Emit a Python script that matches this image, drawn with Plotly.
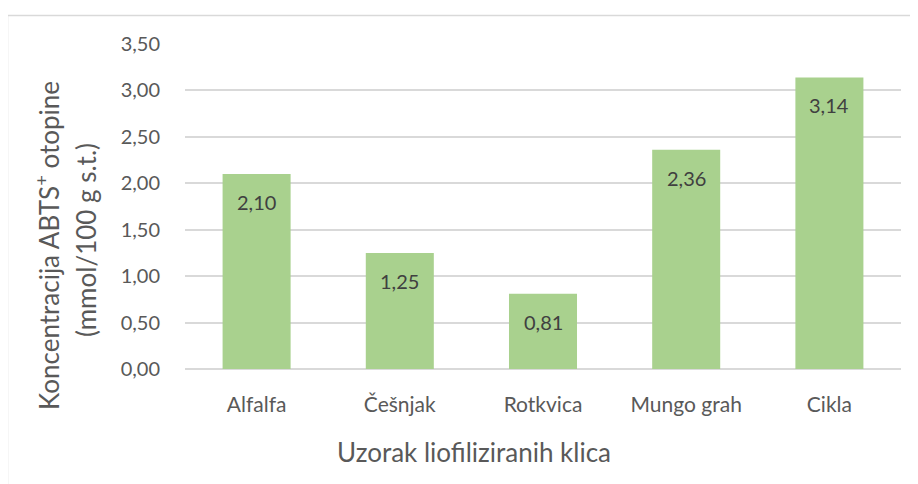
import plotly.graph_objects as go

categories = ["Alfalfa", "Češnjak", "Rotkvica", "Mungo grah", "Cikla"]
values = [2.10, 1.25, 0.81, 2.36, 3.14]
y_ticks = [0, 0.5, 1.0, 1.5, 2.0, 2.5, 3.0, 3.5]
y_ticktext = ["0,00", "0,50", "1,00", "1,50", "2,00", "2,50", "3,00", "3,50"]
y_title_1 = "Koncentracija ABTS<sup>+</sup> otopine"
y_title_2 = "(mmol/100 g s.t.)"
x_title = "Uzorak liofiliziranih klica"

OFF = 8  # page body margin
W, H = 918 - OFF, 484 - OFF
L, T = 185 - OFF, 44 - OFF
R = W - (901 - OFF)
B = H - (369 - OFF)
PW, PH = W - L - R, H - T - B

def px(x):
    return (x - OFF - L) / PW

def py(y):
    return (H - B - (y - OFF)) / PH

FONT = "Lato, 'Open Sans', sans-serif"

fig = go.Figure()
fig.add_trace(go.Bar(
    x=categories, y=values,
    marker=dict(color="#A9D18E", line=dict(width=0)),
    hoverinfo="skip",
))

annotations = []
for c, v in zip(categories, values):
    annotations.append(dict(
        x=c, y=v, xref="x", yref="y", text=f"{v:.2f}".replace(".", ","),
        showarrow=False, yanchor="middle", yshift=-28,
        font=dict(family=FONT, size=20, color="#404040"),
    ))
annotations.append(dict(
    x=px(47), y=py(246), xref="paper", yref="paper", text=y_title_1,
    textangle=-90, showarrow=False, xanchor="center", yanchor="middle",
    font=dict(family=FONT, size=26, color="#595959"),
))
annotations.append(dict(
    x=px(86), y=py(240), xref="paper", yref="paper", text=y_title_2,
    textangle=-90, showarrow=False, xanchor="center", yanchor="middle",
    font=dict(family=FONT, size=26, color="#595959"),
))
annotations.append(dict(
    x=px(474), y=py(452), xref="paper", yref="paper", text=x_title,
    showarrow=False, xanchor="center", yanchor="middle",
    font=dict(family=FONT, size=26, color="#595959"),
))

shapes = [
    dict(type="line", xref="paper", yref="paper",
         x0=px(7.5), x1=px(7.5), y0=py(15.5), y1=py(500),
         line=dict(color="#d9d9d9", width=1.5)),
    dict(type="line", xref="paper", yref="paper",
         x0=px(7.5), x1=px(930), y0=py(15.5), y1=py(15.5),
         line=dict(color="#d9d9d9", width=1.5)),
]

fig.update_layout(
    width=W, height=H,
    margin=dict(l=L, r=R, t=T, b=B),
    paper_bgcolor="white", plot_bgcolor="white",
    bargap=0.525,
    showlegend=False,
    annotations=annotations,
    shapes=shapes,
    font=dict(family=FONT, size=20, color="#595959"),
)
fig.update_xaxes(
    showgrid=False, showline=False, zeroline=False,
    ticks="outside", tickcolor="rgba(0,0,0,0)", ticklen=17,
    tickfont=dict(family=FONT, size=21, color="#595959"),
)
fig.update_yaxes(
    range=[0, 3.5], tickvals=y_ticks, ticktext=y_ticktext,
    showgrid=True, gridcolor="#d9d9d9", gridwidth=1.5,
    zeroline=True, zerolinecolor="#d9d9d9", zerolinewidth=1.5,
    showline=False,
    ticks="outside", tickcolor="rgba(0,0,0,0)", ticklen=20,
    tickfont=dict(family=FONT, size=20, color="#595959"),
)

fig.write_html("out.html")
